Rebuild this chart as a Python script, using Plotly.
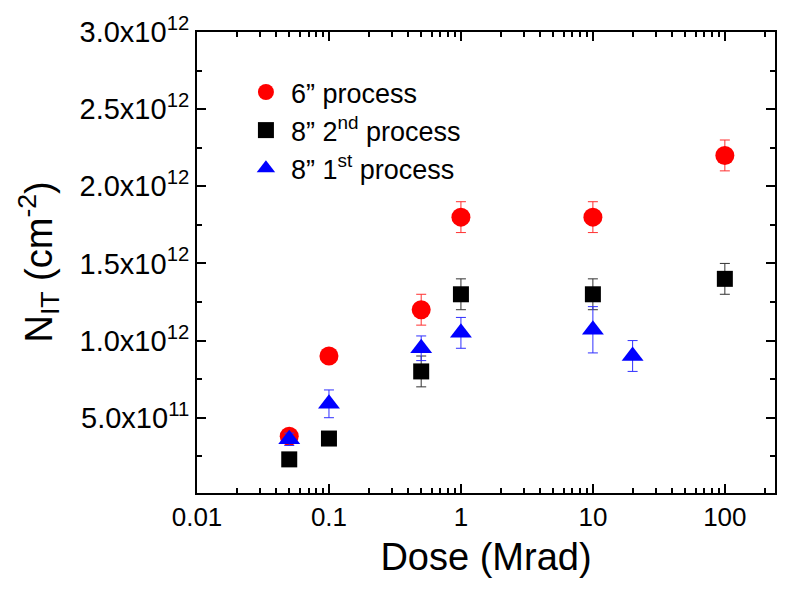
import plotly.graph_objects as go

# Data
dose_6 = [0.05, 0.1, 0.5, 1, 10, 100]
nit_6 = [0.38e12, 0.90e12, 1.20e12, 1.80e12, 1.80e12, 2.20e12]
err_6 = [0.03e12, 0.0, 0.10e12, 0.10e12, 0.10e12, 0.10e12]

dose_8b = [0.05, 0.1, 0.5, 1, 10, 100]
nit_8b = [0.23e12, 0.365e12, 0.80e12, 1.30e12, 1.30e12, 1.40e12]
err_8b = [0.0, 0.0, 0.10e12, 0.10e12, 0.10e12, 0.10e12]

dose_8a = [0.05, 0.1, 0.5, 1, 10, 20]
nit_8a = [0.36e12, 0.59e12, 0.95e12, 1.05e12, 1.07e12, 0.90e12]
err_8a = [0.04e12, 0.09e12, 0.08e12, 0.10e12, 0.15e12, 0.10e12]

names = ["6\u201d process", "8\u201d 2<sup>nd</sup> process", "8\u201d 1<sup>st</sup> process"]

x_tickvals = [0.01, 0.1, 1, 10, 100]
x_ticktext = ["0.01", "0.1", "1", "10", "100"]
y_tickvals = [0.5e12, 1.0e12, 1.5e12, 2.0e12, 2.5e12, 3.0e12]
y_ticktext = ["5.0x10<sup>11</sup>", "1.0x10<sup>12</sup>", "1.5x10<sup>12</sup>",
              "2.0x10<sup>12</sup>", "2.5x10<sup>12</sup>", "3.0x10<sup>12</sup>"]
y_title = "N<sub>IT</sub> (cm<sup>-2</sup>)"
x_title = "Dose (Mrad)"

FONT = "Liberation Sans, Arial, sans-serif"

fig = go.Figure()
fig.add_trace(go.Scatter(
    x=dose_6, y=nit_6, mode="markers", name=names[0], legendgroup="a",
    marker=dict(symbol="circle", size=19, color="#FF0000"),
    error_y=dict(type="data", array=err_6, visible=True, color="#FF3030", thickness=1, width=5),
))
fig.add_trace(go.Scatter(
    x=dose_8b, y=nit_8b, mode="markers", name=names[1], legendgroup="b",
    marker=dict(symbol="square", size=16, color="#000000"),
    error_y=dict(type="data", array=err_8b, visible=True, color="#333333", thickness=1, width=5),
))
fig.add_trace(go.Scatter(
    x=dose_8a, y=nit_8a, mode="markers", name=names[2], legendgroup="c",
    marker=dict(symbol="triangle-up", size=19, color="#0000FF"),
    error_y=dict(type="data", array=err_8a, visible=True, color="#3030FF", thickness=1, width=5),
))

axis_common = dict(
    showline=True, linecolor="black", linewidth=2, mirror="ticks",
    ticks="inside", tickcolor="black", tickwidth=2, ticklen=9,
    showgrid=False, zeroline=False,
)

fig.update_xaxes(
    type="log", range=[-2, 2.38],
    tickvals=x_tickvals, ticktext=x_ticktext,
    tickfont=dict(family=FONT, size=26, color="black"),
    minor=dict(ticks="inside", ticklen=5, tickwidth=2, tickcolor="black", dtick="D1", showgrid=False),
    title=dict(text=x_title, font=dict(family=FONT, size=38, color="black"), standoff=12),
    **axis_common,
)
fig.update_yaxes(
    range=[0.012e12, 3.0e12],
    tickvals=y_tickvals, ticktext=y_ticktext,
    tickfont=dict(family=FONT, size=29, color="black"),
    minor=dict(ticks="inside", ticklen=5, tickwidth=2, tickcolor="black", dtick=0.5e12, tick0=0.25e12, showgrid=False),
    **axis_common,
)

fig.add_annotation(
    text=y_title, xref="paper", yref="paper", x=-0.275, y=0.50,
    xanchor="center", yanchor="middle", textangle=-90, showarrow=False,
    font=dict(family=FONT, size=38, color="black"),
)

fig.update_layout(
    width=796, height=596,
    margin=dict(l=197, r=21, t=28, b=103),
    paper_bgcolor="white", plot_bgcolor="white",
    showlegend=True,
    legend=dict(
        x=0.076, y=0.922, xanchor="left", yanchor="top",
        font=dict(family=FONT, size=27, color="black"),
        bgcolor="rgba(0,0,0,0)", tracegroupgap=0, itemsizing="trace", itemwidth=40,
    ),
)

fig.write_html("out.html")
